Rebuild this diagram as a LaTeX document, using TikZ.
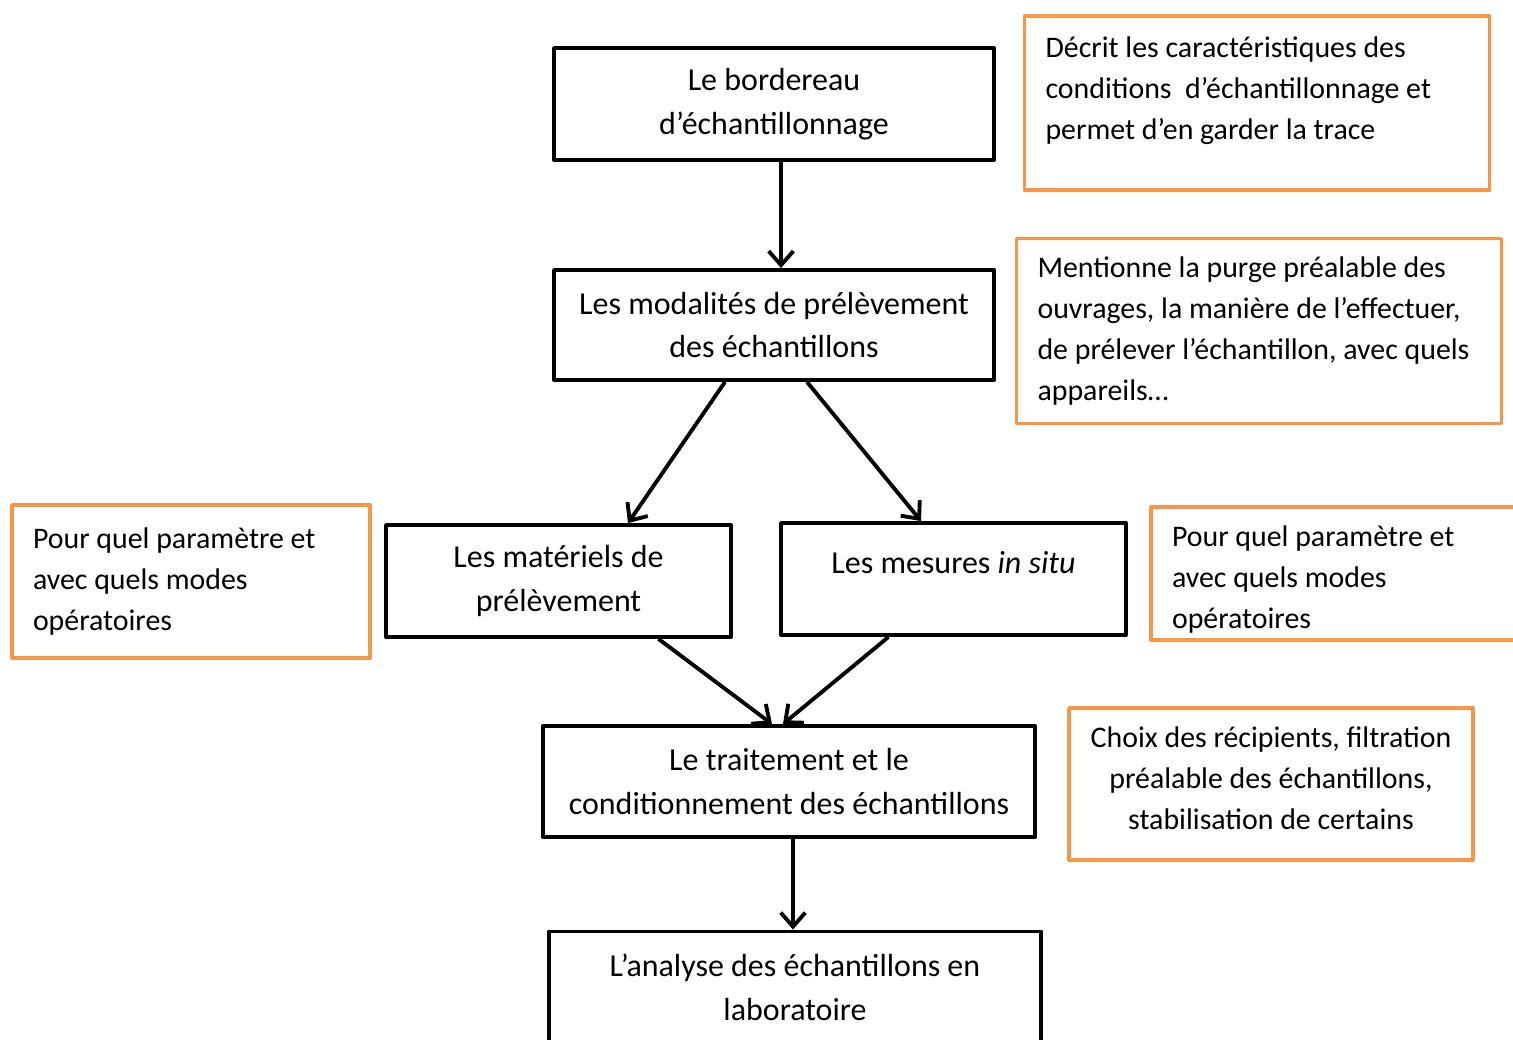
\documentclass[tikz,border=0pt]{standalone}
\usepackage{fontspec}
\setmainfont{Carlito}
\usetikzlibrary{arrows.meta}
\definecolor{orangebord}{RGB}{247,150,70}
\begin{document}
\begin{tikzpicture}[>={Straight Barb[length=8pt,width=14pt]},line join=round,
	bbox/.style={draw,line width=2.2pt,align=flush center,inner sep=0pt,
		font=\fontsize{18.2}{25}\selectfont},
	obox/.style={draw=orangebord,line width=2.2pt,inner xsep=0.42cm,inner ysep=0pt,
		align=flush left,font=\fontsize{17}{23.3}\selectfont},
	fleche/.style={->,line width=2.2pt}]
	\useasboundingbox (0,0) rectangle (30.26,-20.78);
	% boites principales
	\node[bbox,minimum width=8.8cm,minimum height=2.24cm] (bord) at (15.48,-2.08) {Le bordereau\\d’échantillonnage};
	\node[bbox,minimum width=8.8cm,minimum height=2.2cm] (modal) at (15.48,-6.5) {Les modalités de prélèvement\\des échantillons};
	\node[bbox,minimum width=6.9cm,minimum height=2.24cm] (mater) at (11.17,-11.62) {Les matériels de\\prélèvement};
	\node[bbox,minimum width=6.9cm,minimum height=2.24cm,text depth=0.66cm] (mesure) at (19.07,-11.58) {Les mesures \textit{in situ}};
	\node[bbox,minimum width=9.85cm,minimum height=2.22cm] (trait) at (15.78,-15.63) {Le traitement et le\\conditionnement des échantillons};
	\node[bbox,minimum width=9.85cm,minimum height=2.22cm] (analyse) at (15.9,-19.74) {L’analyse des échantillons en\\laboratoire};
	% commentaires en orange
	\node[obox,text width=8.46cm,minimum height=3.48cm] (com1) at (25.14,-2.06) {Décrit les caractéristiques des\\conditions\ \ d’échantillonnage et\\permet d’en garder la trace\\[-0.22cm]\mbox{}};
	\node[obox,text width=8.86cm,minimum height=3.7cm] (com2) at (25.18,-6.62) {Mentionne la purge préalable des\\ouvrages, la manière de l’effectuer,\\de prélever l’échantillon, avec quels\\appareils…};
	\node[obox,text width=6.32cm,minimum height=3.06cm] (com3) at (3.82,-11.63) {Pour quel paramètre et\\avec quels modes\\opératoires};
	\node[obox,text width=7.32cm,minimum height=2.66cm] (com4) at (27.1,-11.47) {\mbox{}\\[-0.16cm]Pour quel paramètre et\\avec quels modes\\opératoires};
	\node[obox,text width=7.24cm,align=flush center,minimum height=3.04cm] (com5) at (25.42,-15.68) {Choix des récipients, filtration\\préalable des échantillons,\\stabilisation de certains\\[-0.6cm]\mbox{}};
	% fleches
	\draw[fleche] ([xshift=0.14cm]bord.south)--([xshift=0.14cm]modal.north);
	\draw[fleche] ([xshift=-0.98cm]modal.south)--([xshift=1.39cm]mater.north);
	\draw[fleche] ([xshift=0.66cm]modal.south)--([xshift=-0.65cm]mesure.north);
	\draw[fleche] ([xshift=2cm]mater.south)--([xshift=-0.34cm]trait.north);
	\draw[fleche] ([xshift=-1.3cm]mesure.south)--([xshift=-0.12cm]trait.north);
	\draw[fleche] ([xshift=0.08cm]trait.south)--([xshift=-0.04cm]analyse.north);
\end{tikzpicture}
\end{document}
